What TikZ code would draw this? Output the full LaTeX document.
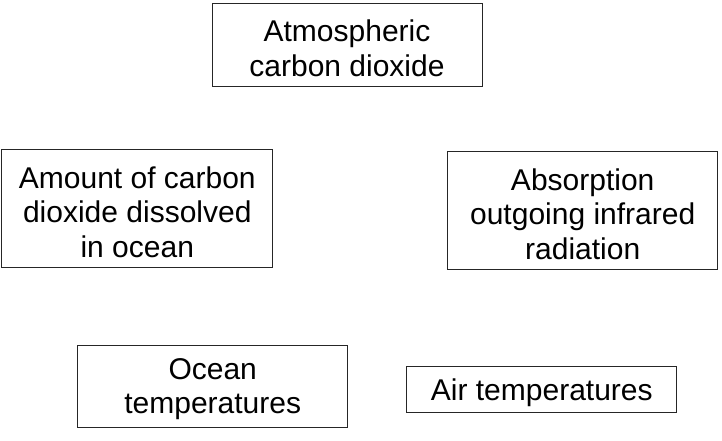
\documentclass[tikz,border=0pt]{standalone}
\usepackage{fontspec}
\setmainfont{Liberation Sans}
\begin{document}
\begin{tikzpicture}[x=1pt,y=-1pt,
  box/.style={draw=black!85, line width=1pt, fill=white, inner sep=0pt,
    label={[txt, yshift=-3pt]center:#1}},
  txt/.style={inner sep=0pt, align=center, font=\fontsize{30}{34.5}\selectfont}]
\useasboundingbox (0,0) rectangle (722,441);
\fill[white] (0,0) rectangle (722,441);
\node[box={Atmospheric\\carbon dioxide}, minimum width=270pt, minimum height=82.7pt] (atm) at (347,45.3) {};
\node[box={Amount of carbon\\dioxide dissolved\\in ocean}, minimum width=270.7pt, minimum height=117.7pt] (ocean) at (137.3,208.8) {};
\node[box={Absorption\\outgoing infrared\\radiation}, minimum width=270pt, minimum height=118.3pt] (abs) at (582.7,210.8) {};
\node[box={Ocean\\temperatures}, minimum width=270pt, minimum height=82.3pt] (otemp) at (212.7,386.2) {};
\node[box={Air temperatures}, minimum width=270.3pt, minimum height=45.6pt] (atemp) at (541.8,389.5) {};
\end{tikzpicture}
\end{document}
